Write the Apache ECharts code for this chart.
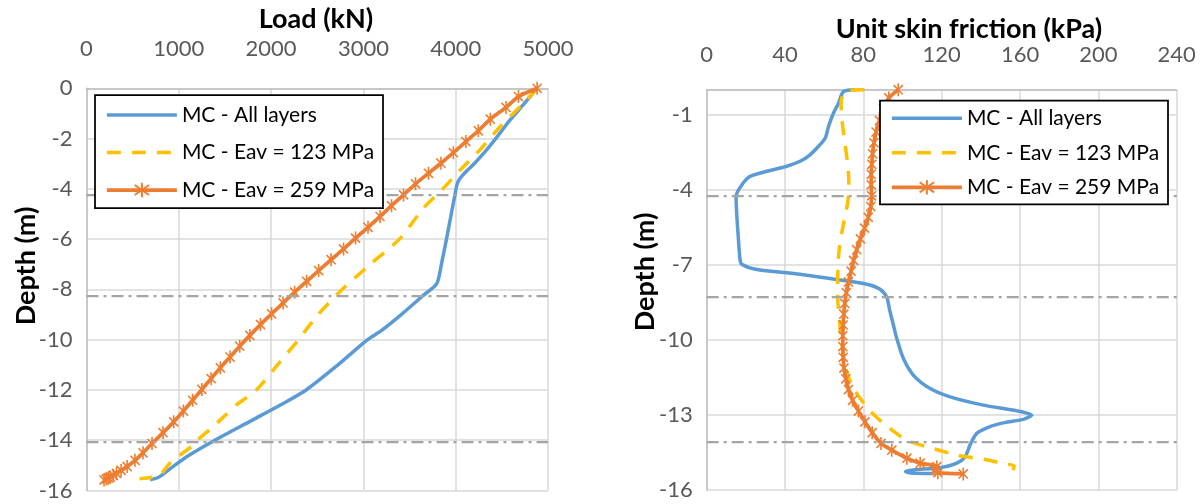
<!DOCTYPE html>
<html>
<head>
<meta charset="utf-8">
<script src="https://cdn.jsdelivr.net/npm/echarts@6/dist/echarts.min.js"></script>
<style>
  html, body { margin: 0; padding: 0; background: #ffffff; }
  #chart { width: 1202px; height: 504px; }
</style>
</head>
<body>
<div id="chart"></div>
<script>
// ---------- Series names ----------
const seriesNames = ['MC - All layers', 'MC - Eav = 123 MPa', 'MC - Eav = 259 MPa'];

// ---------- Load distribution along the pile (kN vs depth, m) ----------
const loadAllDepth = [0, -0.6, -1.26, -1.9, -2.45, -3.0, -3.25, -3.5, -3.65, -3.85, -4.24, -4.84, -6.0, -7.0, -7.77,
  -8.24, -9.0, -9.65, -10.0, -11.0, -12.0, -12.6, -13.19, -14.04, -14.58, -15.0, -15.44, -15.52, -15.57];
const loadAllKN = [4882, 4745, 4590, 4455, 4335, 4200, 4130, 4065, 4035, 4012, 3992, 3960, 3900, 3845, 3795,
  3648, 3410, 3190, 3045, 2725, 2380, 2100, 1802, 1372, 1120, 955, 797, 750, 690];

const load123Depth = [0, -0.53, -1.53, -2.45, -3.25, -4.04, -4.77, -6.0, -7.0, -8.0, -9.0, -9.65, -10.0, -11.0,
  -12.0, -12.6, -13.0, -13.46, -14.0, -14.19, -14.91, -15.38, -15.47, -15.53];
const load123KN = [4882, 4751, 4480, 4263, 4050, 3850, 3650, 3390, 3075, 2770, 2510, 2370, 2297, 2070,
  1840, 1623, 1506, 1372, 1200, 1156, 905, 797, 720, 575];

const load259Depth = [0, -0.33, -0.76, -1.23, -1.69, -2.12, -2.56, -2.98, -3.38, -3.8, -4.24, -4.67, -5.1, -5.53,
  -5.96, -6.39, -6.82, -7.25, -7.68, -8.11, -8.54, -8.97, -9.4, -9.83, -10.26, -10.69, -11.12, -11.55, -11.98,
  -12.41, -12.84, -13.27, -13.7, -14.13, -14.5, -14.8, -15.05, -15.2, -15.32, -15.4, -15.46, -15.5, -15.54, -15.58];
const load259KN = [4882, 4680, 4545, 4375, 4245, 4110, 3975, 3840, 3705, 3565, 3435, 3305, 3180, 3050,
  2915, 2785, 2650, 2515, 2385, 2255, 2130, 2005, 1885, 1770, 1660, 1555, 1450, 1350, 1250,
  1150, 1050, 945, 830, 710, 612, 525, 440, 375, 325, 290, 258, 238, 215, 190];

// ---------- Unit skin friction along the pile (kPa vs depth, m) ----------
const frictionAllDepth = [0, -0.08, -0.54, -0.94, -1.47, -1.94, -2.27, -2.6, -2.86, -3.06, -3.26, -3.46, -3.72,
  -4.25, -4.92, -5.98, -6.77, -6.97, -7.17, -7.37, -7.6, -7.77, -7.97, -8.3, -8.76, -9.42, -9.95, -10.75,
  -11.41, -11.94, -12.27, -12.6, -12.83, -13.0, -13.16, -13.3, -13.45, -13.73, -14.19, -14.66, -14.92,
  -15.1, -15.19, -15.25, -15.31, -15.33];
const frictionAllKPa = [75.6, 69.8, 67.3, 64.7, 62.2, 60.5, 57.0, 52.8, 47.7, 40.9, 30.7, 22.1, 18.7,
  15.0, 15.3, 16.2, 17.0, 17.9, 25.0, 47.7, 68.1, 81.7, 88.5, 92.0, 93.3, 95.4, 97.1, 100.5,
  105.6, 114.1, 124.3, 141.3, 158.4, 166.0, 162.0, 152.0, 145.0, 137.9, 134.5, 132.0, 127.7,
  119.2, 105.6, 101.5, 104.0, 116.0];

const friction123Depth = [0, -0.06, -0.5, -1.0, -1.5, -2.0, -2.5, -3.0, -3.5, -4.0, -4.5, -5.0, -5.5, -6.0, -6.5,
  -7.0, -7.5, -8.0, -8.5, -9.0, -9.5, -10.0, -10.5, -11.0, -11.5, -12.0, -12.5, -13.0, -13.5, -14.0,
  -14.3, -14.6, -14.8, -14.95, -15.02, -15.2];
const friction123KPa = [80.5, 71.0, 68.6, 68.8, 69.5, 70.3, 71.2, 72.0, 72.5, 72.6, 72.0, 70.8, 69.5, 68.3, 67.5,
  67.1, 66.9, 66.8, 67.0, 67.6, 68.2, 68.8, 69.6, 70.6, 72.5, 75.5, 80.0, 85.5, 93.0, 102.0,
  114.0, 128.0, 144.0, 152.0, 157.0, 156.5];

const friction259Depth = [0, -0.33, -0.76, -1.23, -1.69, -2.12, -2.56, -2.98, -3.38, -3.8, -4.24, -4.67, -5.1, -5.53,
  -5.96, -6.39, -6.82, -7.25, -7.68, -8.11, -8.54, -8.97, -9.4, -9.83, -10.26, -10.69, -11.12, -11.55, -11.98,
  -12.41, -12.84, -13.27, -13.7, -14.13, -14.4, -14.72, -14.92, -15.06, -15.2, -15.3, -15.35];
const friction259KPa = [97.8, 93.0, 90.3, 88.2, 86.5, 85.4, 84.7, 84.3, 84.0, 84.0, 84.2, 83.8, 82.5, 80.6,
  78.5, 76.6, 75.0, 73.8, 72.4, 71.3, 70.5, 70.0, 69.7, 69.5, 69.5, 69.7, 70.1, 71.0, 72.4,
  74.5, 77.5, 80.8, 84.5, 89.0, 94.5, 102.2, 109.0, 117.5, 116.5, 118.0, 131.0];

// ---------- Soil layer boundaries (m) ----------
const layerBoundaries = [-4.25, -8.27, -14.05];

// ---------- Axis ranges and ticks ----------
const loadAxis = { min: 0, max: 5000, interval: 1000 };
const loadDepthAxis = { min: -16, max: 0, interval: 2 };
const frictionAxis = { min: 0, max: 240, interval: 40 };
const frictionDepthAxis = { min: -16, max: 0, interval: 3 };

// ---------- Styling ----------
const FONT = 'Lato';
const COLORS = { all: '#5B9BD5', e123: '#FFC000', e259: '#ED7D31' };
const WIDTHS = { all: 3.5, e123: 3.5, e259: 3.75 };
const DASH = [14, 11];
const STAR = 'path://M5 0L5 10M1.5 1.5L8.5 8.5M8.5 1.5L1.5 8.5';

const pairs = (xs, ys) => xs.map((x, i) => [x, ys[i]]);

function valueAxis(range, extra, labelExtra) {
  return Object.assign({
    type: 'value',
    min: range.min, max: range.max, interval: range.interval,
    axisLine: { show: true, onZero: false, lineStyle: { color: '#BFBFBF', width: 1.5 } },
    axisTick: { show: false },
    splitLine: { show: true, lineStyle: { color: '#D9D9D9', width: 1.5 } },
    axisLabel: Object.assign({
      color: '#595959', fontFamily: FONT, fontSize: 22,
      formatter: v => String(v)
    }, labelExtra)
  }, extra);
}

function curveSeries(idx, name, data, kind) {
  const base = {
    name: name, type: 'line', xAxisIndex: idx, yAxisIndex: idx, data: data,
    smooth: 0.25, animation: false, silent: true, z: 3
  };
  if (kind === 'all') {
    return Object.assign(base, {
      symbol: 'none', lineStyle: { color: COLORS.all, width: WIDTHS.all }, itemStyle: { color: COLORS.all }
    });
  }
  if (kind === 'e123') {
    return Object.assign(base, {
      symbol: 'none', lineStyle: { color: COLORS.e123, width: WIDTHS.e123, type: DASH }, itemStyle: { color: COLORS.e123 }
    });
  }
  return Object.assign(base, {
    symbol: STAR, symbolSize: 13, symbolKeepAspect: true, showSymbol: true, showAllSymbol: true,
    lineStyle: { color: COLORS.e259, width: WIDTHS.e259 },
    itemStyle: { color: 'rgba(0,0,0,0)', borderColor: COLORS.e259, borderWidth: 1.6 }
  });
}

function boundarySeries(idx) {
  return {
    type: 'line', xAxisIndex: idx, yAxisIndex: idx, data: [], silent: true, z: 2,
    markLine: {
      silent: true, symbol: 'none', animation: false, label: { show: false },
      lineStyle: { color: '#A5A5A5', width: 2.25, type: [12, 5, 3, 5] },
      data: layerBoundaries.map(d => ({ yAxis: d }))
    }
  };
}

function legendBlock(left, top, gap) {
  return {
    data: [
      { name: seriesNames[0], itemStyle: { opacity: 0 },
        lineStyle: { color: COLORS.all, width: WIDTHS.all } },
      { name: seriesNames[1], itemStyle: { opacity: 0 },
        lineStyle: { color: COLORS.e123, width: WIDTHS.e123, type: DASH } },
      { name: seriesNames[2],
        lineStyle: { color: COLORS.e259, width: WIDTHS.e259 } }
    ],
    orient: 'vertical', left: left, top: top, padding: 0,
    itemGap: gap, itemWidth: 70, itemHeight: 18, selectedMode: false, z: 20,
    textStyle: { fontFamily: FONT, fontSize: 21, lineHeight: 24, color: '#000000' }
  };
}

const titleFont = { fontFamily: FONT, fontSize: 27, fontWeight: 'bold', fill: '#000000' };

const chart = echarts.init(document.getElementById('chart'), null, { renderer: 'canvas' });
chart.setOption({
  animation: false,
  backgroundColor: '#ffffff',
  grid: [
    { left: 86.5, top: 88.3, width: 461.5, height: 402.2 },
    { left: 706.7, top: 89.7, width: 470, height: 400.5 }
  ],
  xAxis: [
    valueAxis(loadAxis, { gridIndex: 0, position: 'top' }, { margin: 28 }),
    valueAxis(frictionAxis, { gridIndex: 1, position: 'top' }, { margin: 24 })
  ],
  yAxis: [
    valueAxis(loadDepthAxis, { gridIndex: 0 }, { margin: 14 }),
    valueAxis(frictionDepthAxis, { gridIndex: 1 }, { margin: 14, showMaxLabel: false })
  ],
  legend: [legendBlock(105, 103, 13.5), legendBlock(890, 106.3, 10.5)],
  graphic: [
    { type: 'rect', z: 10, shape: { x: 95, y: 95, width: 288, height: 113 },
      style: { fill: '#ffffff', stroke: '#000000', lineWidth: 1.75 } },
    { type: 'rect', z: 10, shape: { x: 880, y: 100.7, width: 288, height: 103.6 },
      style: { fill: '#ffffff', stroke: '#000000', lineWidth: 1.75 } },
    { type: 'text', x: 316, y: 19, z: 10,
      style: Object.assign({ text: 'Load (kN)', align: 'center', verticalAlign: 'middle' }, titleFont) },
    { type: 'text', x: 969, y: 29, z: 10,
      style: Object.assign({ text: 'Unit skin friction (kPa)', align: 'center', verticalAlign: 'middle' }, titleFont) },
    { type: 'text', x: 26, y: 266, rotation: Math.PI / 2, z: 10,
      style: Object.assign({ text: 'Depth (m)', align: 'center', verticalAlign: 'middle' }, titleFont) },
    { type: 'text', x: 645, y: 272, rotation: Math.PI / 2, z: 10,
      style: Object.assign({ text: 'Depth (m)', align: 'center', verticalAlign: 'middle' }, titleFont) }
  ],
  series: [
    boundarySeries(0),
    curveSeries(0, seriesNames[0], pairs(loadAllKN, loadAllDepth), 'all'),
    curveSeries(0, seriesNames[1], pairs(load123KN, load123Depth), 'e123'),
    curveSeries(0, seriesNames[2], pairs(load259KN, load259Depth), 'e259'),
    boundarySeries(1),
    curveSeries(1, seriesNames[0], pairs(frictionAllKPa, frictionAllDepth), 'all'),
    curveSeries(1, seriesNames[1], pairs(friction123KPa, friction123Depth), 'e123'),
    curveSeries(1, seriesNames[2], pairs(friction259KPa, friction259Depth), 'e259')
  ]
});
</script>
</body>
</html>
